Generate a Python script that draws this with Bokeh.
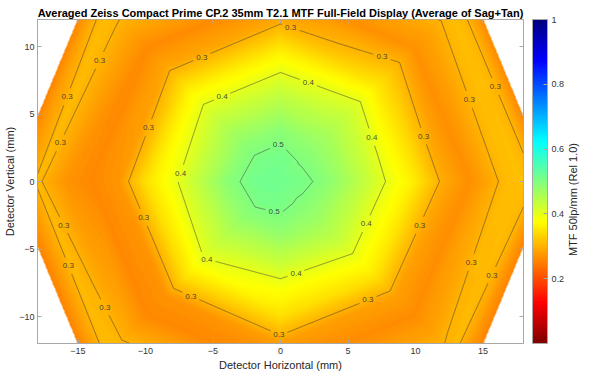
import numpy as np
import contourpy
from bokeh.plotting import figure
from bokeh.layouts import row
from bokeh.models import (LinearColorMapper, ColorBar, FixedTicker,
                          Range1d, ColumnDataSource)
from bokeh.core.properties import value
from bokeh.embed import file_html
from bokeh.resources import INLINE

# ---------------- data ----------------
title_text = "Averaged Zeiss Compact Prime CP.2 35mm T2.1 MTF Full-Field Display (Average of Sag+Tan)"
x_label = "Detector Horizontal (mm)"
y_label = "Detector Vertical (mm)"
cbar_label = "MTF 50lp/mm (Rel 1.0)"

radii_mm = [0, 2, 4, 6, 8, 10, 12, 14, 16, 17, 18, 19, 20]
azimuth_deg = [0, 45, 90, 135, 180, 225, 270, 315]
mtf_az000 = [0.515, 0.505, 0.480, 0.440, 0.395, 0.355, 0.293, 0.266, 0.298, 0.312, 0.313, 0.298, 0.258]
mtf_az045 = [0.515, 0.4988, 0.475, 0.445, 0.410, 0.355, 0.310, 0.268, 0.290, 0.302, 0.312, 0.297, 0.262]
mtf_az090 = [0.515, 0.510, 0.485, 0.445, 0.402, 0.350, 0.290, 0.264, 0.290, 0.302, 0.312, 0.297, 0.262]
mtf_az135 = [0.515, 0.510, 0.483, 0.445, 0.402, 0.350, 0.288, 0.262, 0.290, 0.301, 0.311, 0.294, 0.258]
mtf_az180 = [0.515, 0.512, 0.488, 0.440, 0.390, 0.345, 0.273, 0.260, 0.272, 0.290, 0.305, 0.280, 0.252]
mtf_az225 = [0.515, 0.510, 0.480, 0.440, 0.401, 0.345, 0.270, 0.260, 0.292, 0.305, 0.310, 0.285, 0.256]
mtf_az270 = [0.515, 0.505, 0.478, 0.430, 0.380, 0.345, 0.280, 0.262, 0.292, 0.305, 0.310, 0.285, 0.256]
mtf_az315 = [0.515, 0.4974, 0.470, 0.435, 0.390, 0.348, 0.283, 0.264, 0.285, 0.299, 0.306, 0.280, 0.254]

contour_levels = [0.3, 0.4, 0.5]
x_ticks = [-15, -10, -5, 0, 5, 10, 15]
y_ticks = [-10, -5, 0, 5, 10]
cbar_ticks = [0.2, 0.4, 0.6, 0.8, 1.0]
x_limits = [-18, 18]
y_limits = [-12, 12]

# ---------------- polar mesh (rays x rings) ----------------
R = np.array(radii_mm, float)
V = np.array([mtf_az000, mtf_az045, mtf_az090, mtf_az135,
              mtf_az180, mtf_az225, mtf_az270, mtf_az315], float)
V = np.vstack([V, V[:1]])                      # close the circle
nsec = len(azimuth_deg)
step = 2 * np.pi / nsec
theta = np.deg2rad(np.array(azimuth_deg + [360], float))

# ---------------- shaded field (linear triangles of the mesh) ----------------
nx, ny = 486, 324
xs = x_limits[0] + (np.arange(nx) + 0.5) * (x_limits[1] - x_limits[0]) / nx
ys = y_limits[0] + (np.arange(ny) + 0.5) * (y_limits[1] - y_limits[0]) / ny
X, Y = np.meshgrid(xs, ys)

th = np.mod(np.arctan2(Y, X), 2 * np.pi)
k = np.minimum((th // step).astype(int), nsec - 1)
p0 = k * step
p1 = p0 + step
s = np.sin(step)
a = (X * np.sin(p1) - Y * np.cos(p1)) / s
b = (Y * np.cos(p0) - X * np.sin(p0)) / s
rho = a + b
j = np.clip(np.searchsorted(R, rho, side="right") - 1, 0, len(R) - 2)
r0 = R[j]
r1 = R[j + 1]
fA0 = V[k, j]; fA1 = V[k, j + 1]; fB0 = V[k + 1, j]; fB1 = V[k + 1, j + 1]
inT1 = (a * r1 + b * r0) >= r0 * r1
beta1 = b / r1
alpha1 = (a - r0 + beta1 * r0) / (r1 - r0)
z1 = fA0 + alpha1 * (fA1 - fA0) + beta1 * (fB1 - fA0)
r0s = np.where(r0 > 0, r0, 1.0)
alpha2 = a / r0s
beta2 = (rho - r0) / (r1 - r0)
z2 = fB0 + alpha2 * (fA0 - fB0) + beta2 * (fB1 - fB0)
Z = np.where(inT1, z1, z2)
Z[rho > R[-1]] = np.nan

# ---------------- colour map (reversed jet) ----------------
def jet(t):
    r = np.clip(1.5 - abs(4 * t - 3), 0, 1)
    g = np.clip(1.5 - abs(4 * t - 2), 0, 1)
    bb = np.clip(1.5 - abs(4 * t - 1), 0, 1)
    return r, g, bb

palette = []
for t in np.linspace(1, 0, 256):
    r, g, bb = jet(t)
    palette.append("#%02x%02x%02x" % (int(round(r * 255)), int(round(g * 255)), int(round(bb * 255))))
mapper = LinearColorMapper(palette=palette, low=0, high=1, nan_color="rgba(0,0,0,0)")

# ---------------- figure ----------------
FONT = "Liberation Sans"
AX_COL = "#a8a8a8"
TXT_COL = "#333333"

p = figure(frame_width=486, frame_height=324,
           x_range=Range1d(*x_limits), y_range=Range1d(*y_limits),
           output_backend="svg", toolbar_location=None,
           min_border_left=37, min_border_right=42, min_border_top=19, min_border_bottom=32,
           background_fill_color="white", border_fill_color="white")
p.grid.visible = False
p.outline_line_color = AX_COL

p.title.text = title_text
p.title.align = "center"
p.title.text_font = FONT
p.title.text_font_size = "11px"
p.title.text_font_style = "bold"
p.title.text_color = "#000000"
p.title.standoff = 2

p.image(image=[Z.astype(np.float32)], x=x_limits[0], y=y_limits[0],
        dw=x_limits[1] - x_limits[0], dh=y_limits[1] - y_limits[0], color_mapper=mapper)

# ---------------- contours on the polar mesh, with inline labels ----------------
Xm = R[:, None] * np.cos(theta[None, :])
Ym = R[:, None] * np.sin(theta[None, :])
Zm = V.T
cg = contourpy.contour_generator(Xm, Ym, Zm, line_type="Separate")

def densify(path, ds=0.04):
    out = [path[:1]]
    for q0, q1 in zip(path[:-1], path[1:]):
        L = float(np.hypot(*(q1 - q0)))
        n = max(1, int(np.ceil(L / ds)))
        t = (np.arange(1, n + 1) / n)[:, None]
        out.append(q0 + t * (q1 - q0))
    return np.vstack(out)

spacing = 6.6
gap_r = 0.65
line_xs, line_ys = [], []
lab_x, lab_y, lab_t = [], [], []
for lev in contour_levels:
    for path in cg.lines(lev):
        d = densify(path)
        inside = (np.abs(d[:, 0]) <= x_limits[1]) & (np.abs(d[:, 1]) <= y_limits[1])
        idx = np.flatnonzero(inside)
        if idx.size == 0:
            continue
        runs = np.split(idx, np.flatnonzero(np.diff(idx) > 1) + 1)
        for run in runs:
            px = d[run, 0].copy(); py = d[run, 1].copy()
            if px.size < 2:
                continue
            cum = np.concatenate([[0], np.cumsum(np.hypot(np.diff(px), np.diff(py)))])
            L = cum[-1]
            if L >= 2.0:
                n = max(1, int(L // spacing))
                for m in range(n):
                    sm = (m + 0.5) * L / n
                    lx = float(np.interp(sm, cum, px)); ly = float(np.interp(sm, cum, py))
                    if abs(lx) > x_limits[1] - 0.3 or abs(ly) > y_limits[1] - 0.3:
                        continue
                    lab_x.append(lx); lab_y.append(ly); lab_t.append(f"{lev:g}")
                    dd = np.hypot(px - lx, py - ly)
                    px[dd < gap_r] = np.nan
                    py[dd < gap_r] = np.nan
            line_xs.append(px); line_ys.append(py)

p.multi_line(xs=line_xs, ys=line_ys, line_color="#3a3a3a", line_alpha=0.6, line_width=0.9)
lab_src = ColumnDataSource(dict(x=lab_x, y=lab_y, text=lab_t))
p.text(x="x", y="y", text="text", source=lab_src, text_font=value(FONT), text_font_size="8px",
       text_align="center", text_baseline="middle", text_color="#333333", text_alpha=0.9)

# mirrored inward ticks on the top and right edges of the box
tick_len = 4 / 13.5
p.segment(x0=x_ticks, y0=[y_limits[1]] * len(x_ticks), x1=x_ticks,
          y1=[y_limits[1] - tick_len] * len(x_ticks), line_color=AX_COL, line_width=1)
p.segment(x0=[x_limits[1]] * len(y_ticks), y0=y_ticks, x1=[x_limits[1] - tick_len] * len(y_ticks),
          y1=y_ticks, line_color=AX_COL, line_width=1)

# axes
def style_axis(ax, ticks):
    ax.ticker = FixedTicker(ticks=ticks)
    ax.axis_line_color = AX_COL
    ax.major_tick_line_color = AX_COL
    ax.minor_tick_line_color = None
    ax.major_tick_in = 4
    ax.major_tick_out = 0
    ax.major_label_text_font = FONT
    ax.major_label_text_font_size = "9px"
    ax.major_label_text_color = TXT_COL
    ax.axis_label_text_font = FONT
    ax.axis_label_text_font_size = "11px"
    ax.axis_label_text_font_style = "normal"
    ax.axis_label_text_color = "#262626"

style_axis(p.xaxis[0], x_ticks)
style_axis(p.yaxis[0], y_ticks)
p.xaxis[0].axis_label = x_label
p.yaxis[0].axis_label = y_label
p.xaxis[0].major_label_standoff = 4
p.xaxis[0].axis_label_standoff = 2
p.yaxis[0].major_label_standoff = 3
p.yaxis[0].axis_label_standoff = 0

cb = ColorBar(color_mapper=mapper, ticker=FixedTicker(ticks=cbar_ticks), width=15, height=324,
              padding=0, margin=0, major_tick_in=4, major_tick_out=0,
              major_tick_line_color=AX_COL, bar_line_color=AX_COL, border_line_color=None,
              background_fill_alpha=0, major_label_text_font=FONT, major_label_text_font_size="9px",
              major_label_text_color=TXT_COL, label_standoff=4, location=(495, 0))
p.add_layout(cb)

# ---------------- narrow side panel holding the colour-bar caption ----------------
side_w, side_h = 35, 375
p2 = figure(frame_width=side_w, frame_height=side_h, x_range=Range1d(0, side_w),
            y_range=Range1d(0, side_h), output_backend="svg", toolbar_location=None,
            min_border=0, background_fill_color="white", border_fill_color="white")
p2.axis.visible = False
p2.grid.visible = False
p2.outline_line_color = None
cap_src = ColumnDataSource(dict(x=[side_w * 0.2], y=[side_h * 0.52], text=[cbar_label]))
p2.text(x="x", y="y", text="text", source=cap_src, angle=np.pi / 2,
        text_font=value(FONT), text_font_size="11px", text_align="center",
        text_baseline="middle", text_color="#262626")

layout = row(p, p2, spacing=0)
open("out.html", "w").write(file_html(layout, INLINE))
